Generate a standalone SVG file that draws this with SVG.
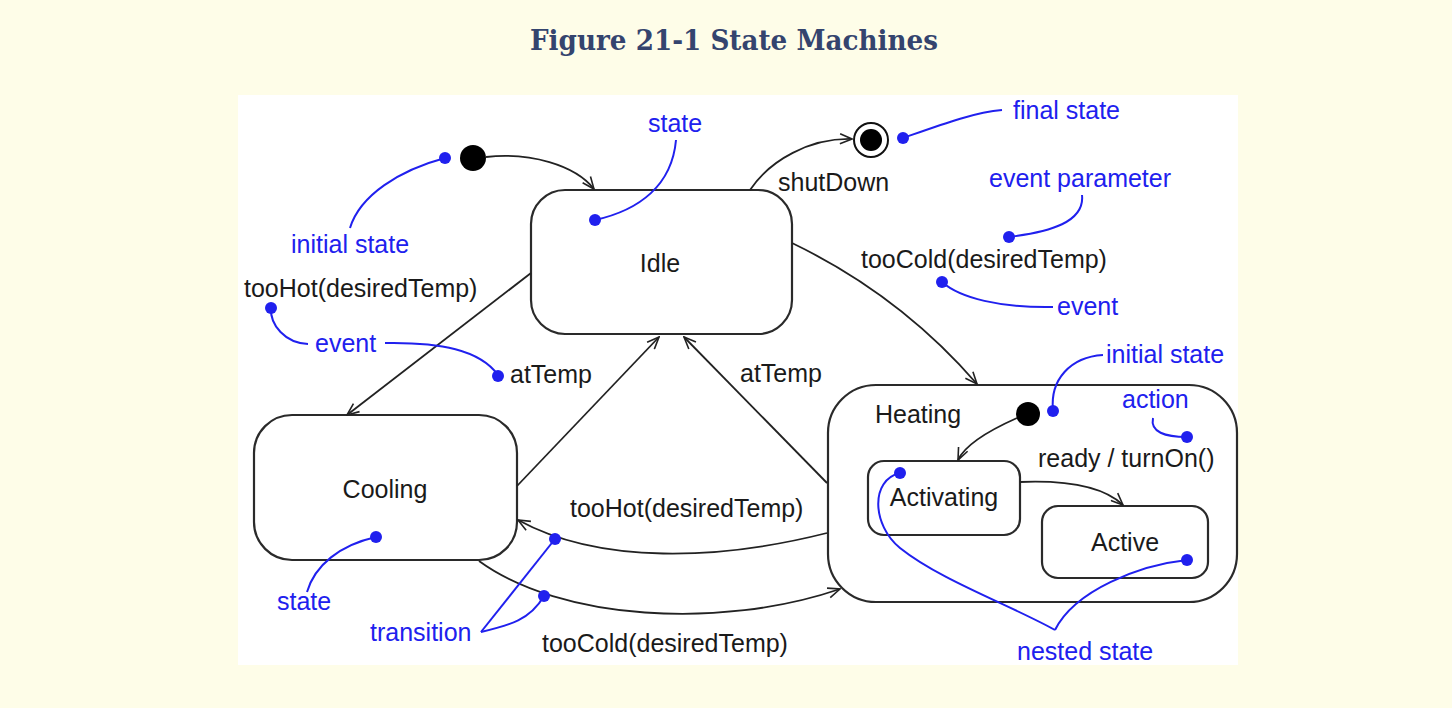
<svg xmlns="http://www.w3.org/2000/svg" width="1452" height="708" viewBox="0 0 1452 708">
<style>
.t{font-family:"Liberation Sans",Arial,sans-serif;font-size:25px;fill:#1a1a1a}
.b{font-family:"Liberation Sans",Arial,sans-serif;font-size:25px;fill:#2020ee}
.c{text-anchor:middle}
.box{fill:#fff;stroke:#2a2a2a;stroke-width:2.2}
.ln{fill:none;stroke:#222;stroke-width:1.8}
.bl{fill:none;stroke:#2020ee;stroke-width:2}
.bd{fill:#2020ee}
</style>
<defs>
<marker id="arr" viewBox="0 0 14 12" refX="13" refY="6" markerWidth="14" markerHeight="12" markerUnits="userSpaceOnUse" orient="auto">
<path d="M1,1 L13,6 L1,11" fill="none" stroke="#222" stroke-width="1.6"/>
</marker>
</defs>
<rect width="1452" height="708" fill="#fefde8"/>
<text x="734" y="50" text-anchor="middle" font-family="'DejaVu Serif','Liberation Serif',serif" font-weight="bold" font-size="28" fill="#34446e" textLength="408" lengthAdjust="spacingAndGlyphs">Figure 21-1 State Machines</text>
<rect x="238" y="95" width="1000" height="570" fill="#fff"/>

<g id="idle"><rect class="box" x="531" y="190" width="261" height="144" rx="34"/><text class="t c" x="660" y="272">Idle</text></g>
<g id="cooling"><rect class="box" x="254" y="415" width="263" height="145" rx="38"/><text class="t c" x="385" y="498">Cooling</text></g>
<g id="heating"><rect class="box" x="828" y="385" width="409" height="217" rx="48"/><text class="t" x="875" y="423">Heating</text></g>
<g id="activating"><rect class="box" x="868" y="461" width="152" height="74" rx="16"/><text class="t c" x="944" y="506">Activating</text></g>
<g id="active"><rect class="box" x="1042" y="506" width="166" height="72" rx="16"/><text class="t c" x="1125" y="551">Active</text></g>
<g id="init"><circle cx="473" cy="158" r="13" fill="#000"/></g>
<g id="final"><circle cx="871" cy="140" r="17" fill="#fff" stroke="#111" stroke-width="2"/><circle cx="871" cy="140" r="11" fill="#000"/></g>
<g id="init2"><circle cx="1028" cy="414" r="12" fill="#000"/></g>

<g id="connectors">
<path class="ln" marker-end="url(#arr)" d="M486,157 C530,152 575,165 594,189"/>
<path class="ln" marker-end="url(#arr)" d="M750,190 C770,160 810,138 852,139"/>
<path class="ln" marker-end="url(#arr)" d="M792,243 Q900,295 977,384"/>
<path class="ln" marker-end="url(#arr)" d="M531,273 L347,415"/>
<path class="ln" marker-end="url(#arr)" d="M517,486 L659,337"/>
<path class="ln" marker-end="url(#arr)" d="M827,483 L684,337"/>
<path class="ln" marker-end="url(#arr)" d="M827,533 C720,560 600,565 518,520"/>
<path class="ln" marker-end="url(#arr)" d="M479,561 C560,620 720,630 840,589"/>
<path class="ln" marker-end="url(#arr)" d="M1017,418 C990,430 965,445 958,460"/>
<path class="ln" marker-end="url(#arr)" d="M1020,482 C1070,480 1105,488 1123,505"/>
</g>

<g id="labels">
<text class="t" x="778" y="191">shutDown</text>
<text class="t" x="861" y="268">tooCold(desiredTemp)</text>
<text class="t" x="244" y="297">tooHot(desiredTemp)</text>
<text class="t" x="510" y="383">atTemp</text>
<text class="t" x="740" y="382">atTemp</text>
<text class="t" x="1038" y="467">ready / turnOn()</text>
<text class="t" x="570" y="517">tooHot(desiredTemp)</text>
<text class="t" x="542" y="652">tooCold(desiredTemp)</text>
</g>

<g id="notes">
<path class="bl" d="M445,158 C400,170 360,195 350,228"/>
<circle class="bd" cx="445" cy="158" r="6"/>
<text class="b" x="291" y="253">initial state</text>
<path class="bl" d="M676,140 C672,185 640,210 595,220"/>
<circle class="bd" cx="595" cy="220" r="6"/>
<text class="b" x="648" y="132">state</text>
<path class="bl" d="M903,138 C940,125 975,112 1002,110"/>
<circle class="bd" cx="903" cy="138" r="6"/>
<text class="b" x="1013" y="119">final state</text>
<path class="bl" d="M1082,195 C1085,222 1050,232 1009,237"/>
<circle class="bd" cx="1009" cy="237" r="6"/>
<text class="b" x="989" y="187">event parameter</text>
<path class="bl" d="M942,282 C960,298 1000,308 1053,307"/>
<circle class="bd" cx="942" cy="282" r="6"/>
<text class="b" x="1057" y="315">event</text>
<path class="bl" d="M271,308 C270,325 285,343 308,344"/>
<circle class="bd" cx="271" cy="308" r="6"/>
<text class="b" x="315" y="352">event</text>
<path class="bl" d="M385,343 C440,342 480,350 498,375"/>
<circle class="bd" cx="498" cy="376" r="6"/>
<path class="bl" d="M1053,410 C1050,380 1070,357 1103,355"/>
<circle class="bd" cx="1053" cy="411" r="6"/>
<text class="b" x="1106" y="363">initial state</text>
<path class="bl" d="M1153,418 C1150,432 1165,437 1187,437"/>
<circle class="bd" cx="1187" cy="437" r="6"/>
<text class="b" x="1122" y="408">action</text>
<path class="bl" d="M900,473 C870,480 872,525 900,548 C940,580 1010,605 1055,630"/>
<path class="bl" d="M1187,560 C1140,565 1075,590 1055,630"/>
<circle class="bd" cx="900" cy="473" r="6"/>
<circle class="bd" cx="1187" cy="560" r="6"/>
<text class="b" x="1017" y="660">nested state</text>
<path class="bl" d="M481,632 L555,539"/>
<path class="bl" d="M481,632 C510,625 530,620 544,596"/>
<circle class="bd" cx="555" cy="539" r="6"/>
<circle class="bd" cx="544" cy="596" r="6"/>
<text class="b" x="370" y="641">transition</text>
<path class="bl" d="M307,592 C315,565 340,545 376,537"/>
<circle class="bd" cx="376" cy="537" r="6"/>
<text class="b" x="277" y="610">state</text>
</g>
</svg>
